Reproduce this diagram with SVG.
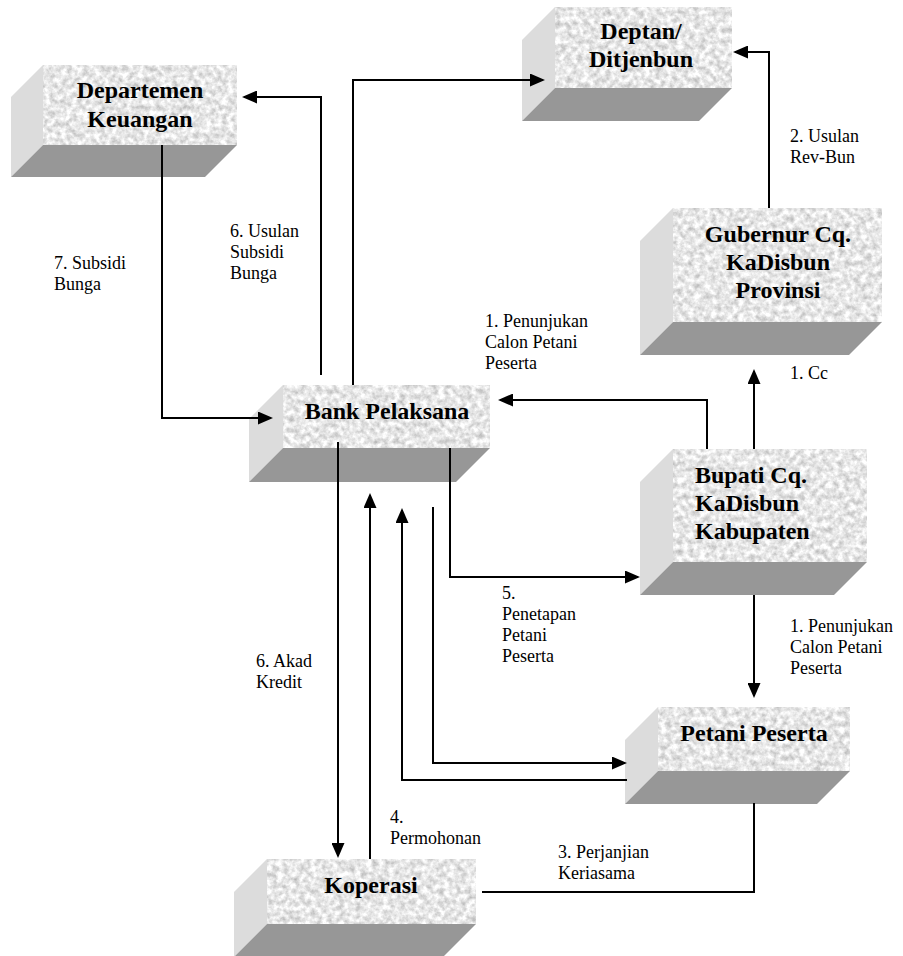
<svg xmlns="http://www.w3.org/2000/svg" width="903" height="956" viewBox="0 0 903 956">
<style>
.face{fill:#e6e6e6;filter:url(#granite)}
.side{fill:#dcdcdc}
.bottom{fill:#979797}
.bt{font-family:"Liberation Serif","Times New Roman",serif;font-weight:bold;font-size:24px;fill:#000}
.lb{font-family:"Liberation Serif","Times New Roman",serif;font-size:18px;fill:#000}
.c{text-anchor:middle}
.ln{fill:none;stroke:#000;stroke-width:2}
.ar{marker-end:url(#ah)}
</style>
<defs>
<filter id="granite" x="0" y="0" width="1" height="1" color-interpolation-filters="sRGB">
<feTurbulence type="fractalNoise" baseFrequency="0.18" numOctaves="3" seed="7" result="n"/>
<feColorMatrix in="n" type="matrix" values="0.45 0 0 0 0.68 0.45 0 0 0 0.68 0.45 0 0 0 0.68 0 0 0 0 1" result="g"/>
<feComposite in="g" in2="SourceGraphic" operator="in"/>
</filter>
<marker id="ah" markerUnits="userSpaceOnUse" markerWidth="15" markerHeight="13" refX="13" refY="6.5" orient="auto">
<path d="M0,0 L15,6.5 L0,13 Z" fill="#000"/>
</marker>
</defs>
<rect width="903" height="956" fill="#fff"/>

<g id="departemen-keuangan">
<polygon class="side" points="43,65 43,145 11,177 11,97"/>
<polygon class="bottom" points="43,145 237,145 205,177 11,177"/>
<rect class="face" x="43" y="65" width="194" height="80"/>
<text class="bt c" x="140" y="98">Departemen</text>
<text class="bt c" x="140" y="127">Keuangan</text>
</g>

<g id="deptan">
<polygon class="side" points="555,7 555,88 522,121 522,40"/>
<polygon class="bottom" points="555,88 732,88 699,121 522,121"/>
<rect class="face" x="555" y="7" width="177" height="81"/>
<text class="bt c" x="641" y="39">Deptan/</text>
<text class="bt c" x="641" y="67">Ditjenbun</text>
</g>

<g id="gubernur">
<polygon class="side" points="673,208 673,322 640,355 640,241"/>
<polygon class="bottom" points="673,322 882,322 849,355 640,355"/>
<rect class="face" x="673" y="208" width="209" height="114"/>
<text class="bt c" x="778" y="242">Gubernur Cq.</text>
<text class="bt c" x="778" y="270">KaDisbun</text>
<text class="bt c" x="778" y="298">Provinsi</text>
</g>

<g id="bank-pelaksana">
<polygon class="side" points="283,385 283,448 249,482 249,419"/>
<polygon class="bottom" points="283,448 490,448 456,482 249,482"/>
<rect class="face" x="283" y="385" width="207" height="63"/>
<text class="bt c" x="387" y="419">Bank Pelaksana</text>
</g>

<g id="bupati">
<polygon class="side" points="673,449 673,562 640,595 640,482"/>
<polygon class="bottom" points="673,562 867,562 834,595 640,595"/>
<rect class="face" x="673" y="449" width="194" height="113"/>
<text class="bt" x="695" y="483">Bupati Cq.</text>
<text class="bt" x="695" y="511">KaDisbun</text>
<text class="bt" x="695" y="539">Kabupaten</text>
</g>

<g id="petani-peserta">
<polygon class="side" points="658,707 658,771 625,804 625,740"/>
<polygon class="bottom" points="658,771 850,771 817,804 625,804"/>
<rect class="face" x="658" y="707" width="192" height="64"/>
<text class="bt c" x="754" y="741">Petani Peserta</text>
</g>

<g id="koperasi">
<polygon class="side" points="267,859 267,924 234,957 234,892"/>
<polygon class="bottom" points="267,924 476,924 443,957 234,957"/>
<rect class="face" x="267" y="859" width="209" height="65"/>
<text class="bt c" x="371" y="893">Koperasi</text>
</g>

<g id="connectors">
<path class="ln ar" d="M321,375 V97 H244"/>
<path class="ln ar" d="M353,385 V80 H543"/>
<path class="ln ar" d="M769,208 V52 H735"/>
<path class="ln ar" d="M162,145 V418 H271"/>
<path class="ln ar" d="M707,449 V400 H500"/>
<path class="ln ar" d="M754,449 V371"/>
<path class="ln ar" d="M754,595 V696"/>
<path class="ln ar" d="M450,448 V577 H638"/>
<path class="ln ar" d="M433,507 V763 H625"/>
<path class="ln ar" d="M627,780 H402 V510"/>
<path class="ln ar" d="M338,442 V856"/>
<path class="ln ar" d="M370,859 V495"/>
<path class="ln" d="M482,892 H754 V803"/>
</g>

<g id="labels">
<text class="lb" x="230" y="237">6. Usulan</text>
<text class="lb" x="230" y="258">Subsidi</text>
<text class="lb" x="230" y="279">Bunga</text>
<text class="lb" x="54" y="269">7. Subsidi</text>
<text class="lb" x="54" y="290">Bunga</text>
<text class="lb" x="790" y="142">2. Usulan</text>
<text class="lb" x="790" y="163">Rev-Bun</text>
<text class="lb" x="485" y="327">1. Penunjukan</text>
<text class="lb" x="485" y="348">Calon Petani</text>
<text class="lb" x="485" y="369">Peserta</text>
<text class="lb" x="790" y="379">1. Cc</text>
<text class="lb" x="790" y="632">1. Penunjukan</text>
<text class="lb" x="790" y="653">Calon Petani</text>
<text class="lb" x="790" y="674">Peserta</text>
<text class="lb" x="502" y="599">5.</text>
<text class="lb" x="502" y="620">Penetapan</text>
<text class="lb" x="502" y="641">Petani</text>
<text class="lb" x="502" y="662">Peserta</text>
<text class="lb" x="256" y="667">6. Akad</text>
<text class="lb" x="256" y="688">Kredit</text>
<text class="lb" x="390" y="823">4.</text>
<text class="lb" x="390" y="844">Permohonan</text>
<text class="lb" x="558" y="858">3. Perjanjian</text>
<text class="lb" x="558" y="879">Keriasama</text>
</g>
</svg>
